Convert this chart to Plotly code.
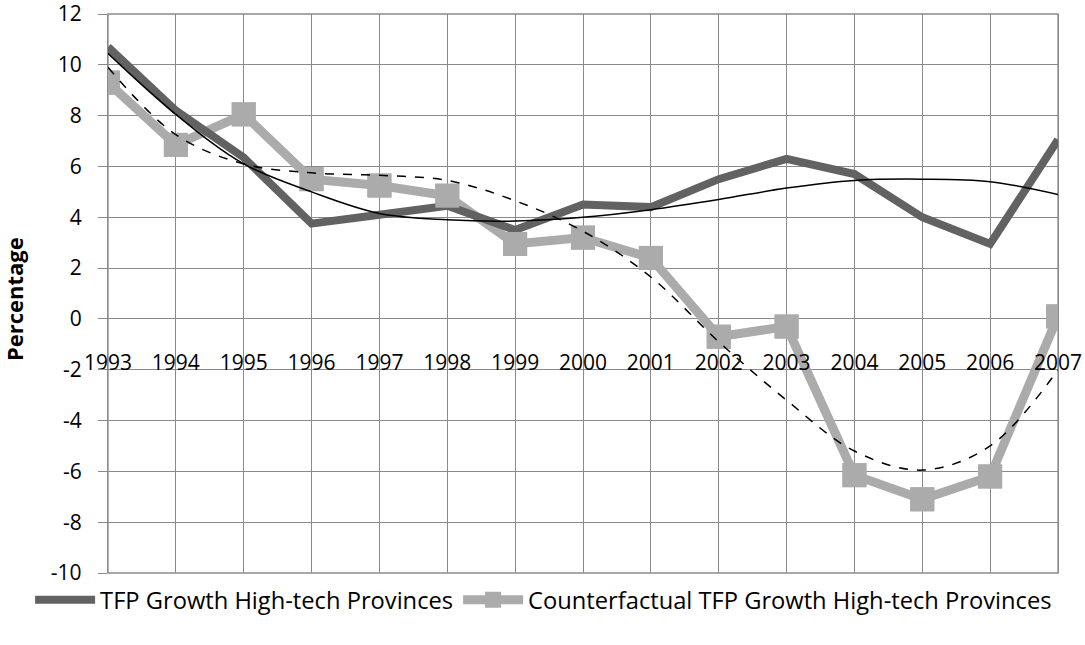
import plotly.graph_objects as go

years = [str(y) for y in range(1993, 2008)]

tfp_growth = [10.7, 8.2, 6.35, 3.75, 4.1, 4.45, 3.5, 4.5, 4.4, 5.5, 6.3, 5.7, 4.0, 2.95, 7.05]
counterfactual = [9.3, 6.85, 8.05, 5.5, 5.25, 4.85, 2.95, 3.2, 2.4, -0.7, -0.3, -6.15, -7.1, -6.2, 0.1]

# trend curves (Excel polynomial trendlines)
tfp_trend = [10.45, 8.05, 6.1, 5.0, 4.15, 3.9, 3.85, 4.0, 4.3, 4.7, 5.15, 5.45, 5.5, 5.4, 4.9]
cf_trend = [9.9, 7.25, 6.1, 5.75, 5.65, 5.45, 4.65, 3.45, 1.65, -0.9, -3.2, -5.2, -5.95, -5.0, -2.0]

y_ticks = [-10, -8, -6, -4, -2, 0, 2, 4, 6, 8, 10, 12]
y_labels = ["-10", "-8", "-6", "-4", "-2", "0", "2", "4", "6", "8", "10", "12"]

DARK = "#626262"
LIGHT = "#ababab"
GRID = "#8a8a8a"
FONT = "Open Sans"

fig = go.Figure()

fig.add_trace(go.Scatter(
    x=years, y=counterfactual, mode="lines+markers",
    name="Counterfactual TFP Growth High-tech Provinces",
    line=dict(color=LIGHT, width=9),
    marker=dict(symbol="square", size=24, color=LIGHT),
    legendrank=2,
))
fig.add_trace(go.Scatter(
    x=years, y=tfp_growth, mode="lines",
    name="TFP Growth High-tech Provinces",
    line=dict(color=DARK, width=8),
    legendrank=1,
))
fig.add_trace(go.Scatter(
    x=years, y=counterfactual, mode="markers", showlegend=False,
    marker=dict(symbol="square", size=24, color=LIGHT),
))
fig.add_trace(go.Scatter(
    x=years, y=tfp_trend, mode="lines", showlegend=False,
    line=dict(color="black", width=1.5, shape="spline"),
))
fig.add_trace(go.Scatter(
    x=years, y=cf_trend, mode="lines", showlegend=False,
    line=dict(color="black", width=1.5, dash="dash", shape="spline"),
))

fig.update_layout(
    width=1085, height=645,
    margin=dict(l=108, r=27, t=14, b=72, autoexpand=False),
    paper_bgcolor="white", plot_bgcolor="white",
    font=dict(family=FONT, size=21, color="black"),
    showlegend=True,
    legend=dict(orientation="h", x=-0.082, xanchor="left", y=-0.048, yanchor="middle",
                font=dict(size=23.7), itemwidth=60, traceorder="normal",
                bgcolor="rgba(0,0,0,0)"),
    xaxis=dict(
        type="category", range=[0, 14], showgrid=True, gridcolor=GRID, gridwidth=1.3,
        anchor="free", position=10 / 22, showline=False, ticks="",
        ticklabelstandoff=29, tickfont=dict(size=21), automargin=False,
        ticklabeloverflow="allow",
    ),
    yaxis=dict(
        range=[-10, 12], tickvals=y_ticks, ticktext=y_labels,
        showgrid=True, gridcolor=GRID, gridwidth=1.3,
        zeroline=True, zerolinecolor=GRID, zerolinewidth=1.3,
        showline=True, linecolor=GRID, linewidth=1.3, mirror=True,
        ticks="outside", ticklen=9, tickcolor=GRID, tickwidth=1.3,
        ticklabelstandoff=12, tickfont=dict(size=21), automargin=False,
        ticklabeloverflow="allow",
    ),
    annotations=[dict(text="<b>Percentage</b>", xref="paper", yref="paper",
                      x=-0.099, y=0.49, xanchor="center", yanchor="middle",
                      textangle=-90, showarrow=False, font=dict(size=22))],
    shapes=[dict(type="rect", xref="paper", yref="paper", x0=0, x1=1, y0=0, y1=1,
                 line=dict(color=GRID, width=1.3), layer="below")],
)

# drop the default 8px page margin so the figure fills the window exactly
fig.write_html("out.html", config={"displayModeBar": False},
               post_script="document.body.style.margin='0px';")
